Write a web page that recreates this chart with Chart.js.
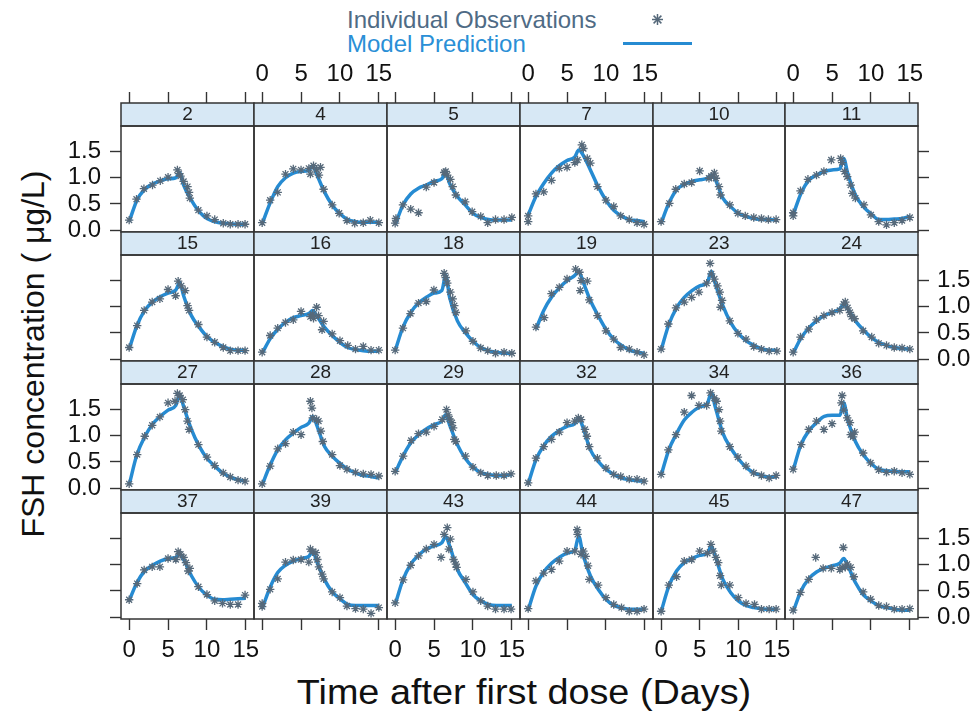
<!DOCTYPE html>
<html><head><meta charset="utf-8">
<script src="https://cdn.jsdelivr.net/npm/chart.js@4.4.1/dist/chart.umd.min.js"></script>
<style>
html,body{margin:0;padding:0;background:#fff;}
#wrap{position:relative;width:974px;height:711px;overflow:hidden;font-family:"Liberation Sans",Arial,sans-serif;}
#wrap canvas{position:absolute;}
.t{position:absolute;white-space:nowrap;line-height:1;}
</style></head><body><div id="wrap">
<div class="t" style="left:347px;top:8px;font-size:24px;color:#4f6b85;">Individual Observations</div>
<div class="t" style="left:347px;top:32px;font-size:24px;color:#2a8fd6;">Model Prediction</div>
<svg style="position:absolute;left:650px;top:12px" width="15" height="15" viewBox="-7.5 -7.5 15 15"><g stroke="#56697a" stroke-width="1.5"><line x1="-5.5" y1="0" x2="5.5" y2="0"/><line x1="0" y1="-5.5" x2="0" y2="5.5"/><line x1="-3.9" y1="-3.9" x2="3.9" y2="3.9"/><line x1="-3.9" y1="3.9" x2="3.9" y2="-3.9"/></g></svg>
<div style="position:absolute;left:623px;top:41.5px;width:69px;height:3.5px;background:#268bd2;"></div>
<div class="t" style="left:33px;top:354px;font-size:32px;color:#111;transform:translate(-50%,-50%) rotate(-90deg);">FSH concentration ( μg/L)</div>
<div class="t" style="left:524px;top:691px;font-size:35px;color:#111;transform:translate(-50%,-50%) scaleX(1.08);">Time after first dose (Days)</div>
</div>
<script>
// ---------- data ----------
const panelIds = [2,4,5,7,10,11,15,16,18,19,23,24,27,28,29,32,34,36,37,39,43,44,45,47];
const xTicks = [0,5,10,15];
const yTicks = [0,0.5,1,1.5];
const predTimes = [0,1,2,3,4,5,6,6.5,7,8,9,10,11,12,13,14,15];

const pred_2  = [0.16,0.57,0.78,0.88,0.94,0.98,1.0,1.1,0.86,0.57,0.35,0.22,0.16,0.13,0.12,0.11,0.11];
const pred_4  = [0.12,0.51,0.83,1.0,1.09,1.12,1.14,1.23,1.07,0.73,0.48,0.31,0.2,0.16,0.15,0.15,0.15];
const pred_5  = [0.1,0.48,0.69,0.8,0.86,0.93,0.98,1.09,0.89,0.64,0.48,0.32,0.24,0.2,0.19,0.19,0.19];
const pred_7  = [0.29,0.64,0.89,1.09,1.23,1.33,1.4,1.53,1.45,1.15,0.83,0.57,0.38,0.27,0.2,0.18,0.16];
const pred_10 = [0.13,0.51,0.77,0.87,0.93,0.96,0.99,1.05,0.97,0.61,0.45,0.32,0.26,0.22,0.2,0.2,0.19];
const pred_11 = [0.29,0.7,0.95,1.05,1.12,1.15,1.17,1.37,1.09,0.67,0.45,0.31,0.2,0.2,0.21,0.22,0.26];
const pred_15 = [0.19,0.64,0.93,1.09,1.19,1.26,1.32,1.47,1.21,0.83,0.61,0.43,0.32,0.24,0.19,0.17,0.17];
const pred_16 = [0.11,0.38,0.57,0.7,0.79,0.83,0.87,0.93,0.83,0.61,0.45,0.32,0.22,0.18,0.16,0.15,0.15];
const pred_18 = [0.16,0.61,0.89,1.07,1.18,1.26,1.31,1.6,1.18,0.73,0.51,0.34,0.22,0.16,0.13,0.11,0.11];
const pred_19 = [null,0.57,0.93,1.18,1.36,1.5,1.6,1.68,1.5,1.12,0.83,0.57,0.38,0.26,0.17,0.13,0.11];
const pred_23 = [0.17,0.66,0.98,1.18,1.31,1.4,1.47,1.68,1.45,1.02,0.7,0.49,0.35,0.26,0.2,0.17,0.17];
const pred_24 = [0.11,0.4,0.59,0.73,0.83,0.89,0.96,1.05,0.96,0.73,0.56,0.42,0.32,0.26,0.22,0.2,0.19];
const pred_27 = [0.06,0.64,0.98,1.22,1.37,1.49,1.58,1.79,1.56,1.12,0.8,0.57,0.42,0.29,0.21,0.16,0.13];
const pred_28 = [0.06,0.43,0.73,0.92,1.05,1.16,1.24,1.37,1.21,0.8,0.61,0.47,0.36,0.29,0.24,0.22,0.19];
const pred_29 = [0.29,0.61,0.86,1.02,1.13,1.21,1.28,1.4,1.21,0.83,0.57,0.4,0.3,0.26,0.24,0.24,0.26];
const pred_32 = [0.08,0.54,0.81,0.99,1.1,1.18,1.23,1.34,1.18,0.73,0.51,0.36,0.26,0.19,0.16,0.14,0.13];
const pred_34 = [0.24,0.73,1.04,1.3,1.45,1.55,1.62,1.82,1.56,1.05,0.77,0.56,0.4,0.29,0.24,0.21,0.21];
const pred_36 = [0.34,0.83,1.09,1.25,1.37,1.39,1.39,1.63,1.31,0.89,0.64,0.47,0.36,0.33,0.32,0.31,0.31];
const pred_37 = [0.31,0.66,0.88,0.99,1.07,1.12,1.14,1.2,1.1,0.79,0.56,0.42,0.34,0.33,0.34,0.35,0.36];
const pred_39 = [0.16,0.56,0.85,0.99,1.07,1.12,1.16,1.26,1.07,0.72,0.48,0.35,0.24,0.22,0.22,0.22,0.22];
const pred_43 = [0.24,0.71,1.01,1.18,1.3,1.36,1.42,1.54,1.36,0.91,0.66,0.43,0.31,0.24,0.22,0.22,0.22];
const pred_44 = [0.13,0.59,0.86,1.03,1.14,1.22,1.28,1.55,1.23,0.79,0.53,0.34,0.22,0.18,0.15,0.15,0.15];
const pred_45 = [0.1,0.59,0.88,1.04,1.12,1.18,1.22,1.36,1.17,0.72,0.47,0.31,0.22,0.18,0.16,0.15,0.15];
const pred_47 = [0.1,0.5,0.73,0.86,0.93,0.98,1.03,1.12,0.99,0.66,0.43,0.31,0.22,0.18,0.15,0.13,0.13];

const obs_2  = [[0,0.19],[0.94,0.59],[1.9,0.79],[3,0.86],[4,0.94],[5,1.01],[6.2,1.15],[6.4,1.08],[6.6,1.03],[7,0.93],[7.5,0.83],[7.7,0.72],[7.8,0.61],[8.9,0.38],[10,0.27],[11,0.2],[12.1,0.13],[13,0.11],[14,0.11],[14.9,0.11]];
const obs_4  = [[0,0.14],[1.03,0.57],[2,0.72],[3,1.07],[4,1.17],[5,1.15],[6,1.18],[6.2,1.07],[6.6,1.23],[7,1.15],[7.3,1.05],[7.5,1.2],[7.9,0.78],[9,0.48],[9.9,0.32],[10.9,0.18],[11.9,0.13],[13,0.14],[13.9,0.19],[15,0.14]];
const obs_5  = [[0,0.13],[0.1,0.22],[1,0.48],[2,0.4],[3,0.33],[4,0.82],[5,0.91],[6.3,1.1],[6.5,1.12],[6.7,1.05],[7.1,0.97],[7.4,0.83],[7.8,0.67],[9,0.54],[9.9,0.35],[11,0.26],[11.9,0.14],[12.9,0.2],[14,0.2],[15,0.24]];
const obs_7  = [[0,0.27],[0,0.16],[1,0.69],[2,0.73],[3,0.95],[4,1.18],[5,1.2],[6,1.29],[6.35,1.34],[6.9,1.63],[7.1,1.56],[7.6,1.37],[8,1.28],[8.9,0.83],[10,0.57],[11,0.45],[11.9,0.27],[13,0.2],[14,0.14],[14.9,0.11]];
const obs_10 = [[0,0.16],[1.07,0.51],[1.9,0.78],[3,0.88],[3.95,0.91],[5,1.13],[6.2,0.99],[6.5,1.03],[6.9,1.09],[7.1,0.99],[7.5,0.83],[7.7,0.67],[8.9,0.48],[9.95,0.32],[10.9,0.27],[12,0.24],[13,0.22],[13.9,0.2],[14.9,0.2]];
const obs_11 = [[0,0.33],[0,0.27],[0.94,0.75],[1.9,0.97],[3,1.05],[3.95,1.12],[4.9,1.34],[6.1,1.37],[6.3,1.29],[6.6,1.12],[6.95,1.02],[7.4,0.86],[7.6,0.7],[8,0.61],[9.1,0.48],[10,0.29],[11,0.16],[12,0.1],[13,0.14],[14,0.18],[15,0.24]];
const obs_15 = [[0,0.22],[1.03,0.64],[1.93,0.93],[2.96,1.09],[3.95,1.15],[5,1.33],[5.97,1.21],[6.3,1.49],[6.7,1.4],[7.2,1.31],[7.5,1.02],[7.7,0.93],[8.9,0.66],[10,0.42],[11,0.32],[12.1,0.22],[13,0.16],[14,0.16],[14.9,0.16]];
const obs_16 = [[0,0.13],[1.03,0.45],[2,0.59],[3,0.7],[4,0.75],[5,0.91],[6.2,0.81],[6.5,0.86],[6.6,0.78],[7,0.99],[7.25,0.83],[7.7,0.56],[7.9,0.72],[9,0.48],[10,0.35],[11,0.26],[12,0.19],[13,0.24],[14,0.17],[15,0.17]];
const obs_18 = [[0,0.17],[1,0.59],[1.97,0.87],[3,1.07],[4,1.1],[4.98,1.32],[6.3,1.64],[6.5,1.56],[6.7,1.45],[7.1,1.28],[7.4,1.15],[7.6,1.02],[7.8,0.89],[9.1,0.54],[10,0.34],[11,0.21],[11.9,0.16],[12.9,0.11],[14,0.13],[15,0.11]];
const obs_19 = [[1,0.61],[2.06,0.79],[3,1.25],[4,1.37],[5,1.53],[6.1,1.72],[6.6,1.66],[6.7,1.31],[6.8,1.5],[7.6,1.49],[7.85,1.13],[8.9,0.83],[10,0.54],[11,0.38],[11.9,0.22],[13,0.19],[14,0.13],[14.9,0.08]];
const obs_23 = [[0,0.19],[0.94,0.67],[1.93,0.98],[3,1.09],[3.95,1.18],[4.9,1.28],[5.9,1.45],[6.35,1.83],[6.5,1.63],[6.9,1.53],[7.3,1.4],[7.6,1.28],[7.7,0.99],[7.9,1.12],[8.9,0.73],[9.95,0.49],[11,0.38],[12,0.24],[13,0.19],[14,0.15],[15,0.15]];
const obs_24 = [[0,0.13],[0.94,0.42],[2,0.57],[3,0.75],[3.95,0.83],[5,0.89],[6,0.93],[6.5,1.05],[6.7,1.09],[7,0.98],[7.3,0.89],[7.5,0.81],[7.9,0.77],[9,0.54],[10.1,0.42],[11,0.3],[12,0.26],[13,0.22],[14,0.21],[15,0.19]];
const obs_27 = [[0,0.08],[1.03,0.64],[2,0.99],[2.96,1.2],[3.95,1.36],[5,1.63],[5.9,1.66],[6.2,1.81],[6.5,1.77],[6.9,1.69],[7.2,1.5],[7.5,1.28],[7.7,1.12],[8.9,0.83],[10,0.59],[11,0.43],[12.1,0.29],[13,0.21],[14,0.15],[14.9,0.13]];
const obs_28 = [[0,0.08],[1.03,0.42],[2,0.75],[3,0.85],[4,1.07],[5,1.02],[6.2,1.66],[6.4,1.53],[6.5,1.34],[7,1.31],[7.25,1.28],[7.55,1.09],[7.8,0.89],[9,0.64],[10,0.43],[10.9,0.36],[12,0.3],[13,0.27],[14,0.26],[15,0.23]];
const obs_29 = [[0,0.32],[1.03,0.61],[2.06,0.91],[3,1.04],[4,1.07],[5,1.18],[6.05,1.31],[6.6,1.5],[6.8,1.4],[7,1.32],[7.3,1.25],[7.45,1.15],[7.6,0.93],[7.8,0.89],[9.05,0.61],[10,0.4],[11,0.29],[11.9,0.24],[13,0.24],[14,0.24],[14.9,0.27]];
const obs_32 = [[0,0.1],[1,0.57],[2,0.79],[3,0.93],[4,1.07],[5,1.25],[6,1.28],[6.45,1.34],[6.8,1.31],[7.3,1.12],[7.55,0.99],[7.85,0.79],[8.9,0.57],[10,0.38],[11,0.26],[11.9,0.22],[13,0.17],[14,0.17],[14.9,0.13]];
const obs_34 = [[0,0.26],[0.94,0.73],[1.93,1.02],[3,1.45],[3.95,1.77],[4.9,1.58],[5.9,1.58],[6.4,1.82],[6.9,1.72],[7.2,1.66],[7.5,1.5],[7.65,1.28],[7.8,1.09],[8.9,0.79],[9.95,0.59],[11,0.42],[12,0.29],[13,0.24],[14,0.19],[14.9,0.24]];
const obs_36 = [[0,0.36],[1.03,0.83],[2,1.12],[3,1.28],[3.95,1.12],[5,1.23],[6.2,1.63],[6.3,1.77],[6.5,1.49],[6.95,1.34],[7.3,1.25],[7.4,1.02],[7.7,0.98],[7.9,1.07],[9,0.67],[9.95,0.48],[11,0.35],[12,0.3],[13,0.32],[14,0.29],[15,0.26]];
const obs_37 = [[0,0.33],[1.03,0.64],[1.93,0.9],[2.96,0.96],[3.95,0.96],[5,1.12],[6,1.1],[6.3,1.25],[6.6,1.2],[7,1.14],[7.3,1.04],[7.6,0.88],[7.8,0.93],[8.9,0.58],[10,0.43],[11,0.31],[12,0.26],[13,0.24],[14,0.24],[14.9,0.42]];
const obs_39 = [[0,0.26],[0,0.2],[1.03,0.53],[2,0.73],[3,1.05],[4,1.09],[5,1.1],[6,1.05],[6.2,1.3],[6.5,1.25],[6.9,1.23],[7.1,1.1],[7.3,0.96],[7.7,0.82],[7.9,0.73],[9,0.48],[10,0.37],[10.9,0.21],[12,0.16],[13,0.15],[14,0.07],[15,0.18]];
const obs_43 = [[0,0.27],[1.03,0.71],[2,0.99],[3,1.17],[4,1.3],[5,1.39],[5.9,1.14],[6.3,1.58],[6.7,1.71],[6.9,1.3],[7.1,1.49],[7.5,1.1],[7.8,1.01],[7.9,0.95],[9.1,0.72],[10,0.48],[11,0.31],[11.9,0.21],[12.9,0.15],[14,0.15],[14.9,0.15]];
const obs_44 = [[0,0.16],[1,0.69],[2,0.84],[3,0.91],[4,1.07],[5,1.26],[6,1.26],[6.3,1.67],[6.35,1.58],[6.8,1.2],[7.1,1.26],[7.4,1.16],[7.7,0.98],[7.85,0.72],[9,0.61],[10,0.37],[11,0.24],[12,0.18],[13,0.11],[14,0.11],[14.9,0.15]];
const obs_45 = [[0,0.11],[1,0.61],[2,0.77],[3,1.07],[3.95,1.1],[5,1.26],[6,1.22],[6.45,1.39],[6.75,1.26],[7.1,1.14],[7.4,1.04],[7.65,0.79],[7.8,0.61],[8.9,0.61],[10,0.37],[11,0.26],[12.1,0.24],[13,0.15],[14,0.15],[14.9,0.15]];
const obs_47 = [[0,0.13],[0.94,0.47],[2,0.72],[2.9,1.14],[3.86,0.93],[4.9,0.93],[6,0.91],[6.3,0.95],[6.45,1.33],[6.7,0.95],[6.95,1.01],[7.4,0.95],[7.8,0.77],[9,0.48],[9.95,0.34],[11,0.22],[12,0.2],[13,0.15],[14,0.15],[15,0.16]];

const predList = [pred_2,pred_4,pred_5,pred_7,pred_10,pred_11,pred_15,pred_16,pred_18,pred_19,pred_23,pred_24,pred_27,pred_28,pred_29,pred_32,pred_34,pred_36,pred_37,pred_39,pred_43,pred_44,pred_45,pred_47];
const obsList = [obs_2,obs_4,obs_5,obs_7,obs_10,obs_11,obs_15,obs_16,obs_18,obs_19,obs_23,obs_24,obs_27,obs_28,obs_29,obs_32,obs_34,obs_36,obs_37,obs_39,obs_43,obs_44,obs_45,obs_47];

// ---------- layout & style ----------
const colEdges = [121, 254, 387, 520, 653, 785, 918];
const rowEdges = [103, 232, 361, 490, 619];
const STRIP_H = 23, ML = 60, MR = 60, MT = 45, MB = 45;
const FONT = 'Liberation Sans, Arial, Helvetica, sans-serif';
const LINE_COLOR = '#268bd2', OBS_COLOR = '#56697a', STRIP_COLOR = '#d7e8f5', BORDER = '#333333', TXT = '#111111';
const CLEAR = 'rgba(0,0,0,0)';
Chart.defaults.font.family = FONT;

const stripPlugin = {
  id: 'strip',
  beforeDraw(chart) {
    const t = chart.titleBlock, ctx = chart.ctx;
    ctx.save(); ctx.fillStyle = STRIP_COLOR; ctx.fillRect(t.left, t.top, t.width, t.height); ctx.restore();
  },
  afterDraw(chart) {
    const t = chart.titleBlock, a = chart.chartArea, ctx = chart.ctx;
    ctx.save(); ctx.strokeStyle = BORDER; ctx.lineWidth = 1.5;
    ctx.strokeRect(t.left, t.top, t.width, t.height);
    ctx.strokeRect(a.left, a.top, a.right - a.left, a.bottom - a.top);
    ctx.restore();
  }
};

const PAD = { top: 3, bottom: 6, left: 9, right: 8 };
function axisCfg(pos, isX, showTicks, showLabels, size) {
  const vals = isX ? xTicks : yTicks;
  return {
    type: 'linear', axis: isX ? 'x' : 'y', position: pos,
    min: isX ? -1.05 : -0.038, max: isX ? 16.05 : 1.99,
    weight: pos === 'top' ? 3000 : 0,
    afterBuildTicks: s => { s.ticks = vals.map(v => ({ value: v })); },
    afterFit: s => { if (isX) s.height = size; else s.width = size; },
    ticks: {
      autoSkip: false, maxRotation: 0, padding: PAD[pos],
      color: showLabels ? TXT : CLEAR,
      font: { size: 24, family: FONT },
      callback: v => isX ? String(v) : Number(v).toFixed(1)
    },
    grid: { drawOnChartArea: false, drawTicks: true, tickLength: 11, tickWidth: 1.4, tickColor: showTicks ? BORDER : CLEAR, color: CLEAR },
    border: { display: false }
  };
}

const wrap = document.getElementById('wrap');
panelIds.forEach((id, i) => {
  const r = Math.floor(i / 6), c = i % 6;
  const left = colEdges[c], right = colEdges[c + 1], top = rowEdges[r], bottom = rowEdges[r + 1];
  const cv = document.createElement('canvas');
  const w = right - left + ML + MR, h = bottom - top + MT + MB;
  cv.width = w; cv.height = h;
  cv.style.left = (left - ML) + 'px'; cv.style.top = (top - MT) + 'px';
  cv.style.width = w + 'px'; cv.style.height = h + 'px';
  wrap.appendChild(cv);
  const pred = predList[i], obs = obsList[i];
  new Chart(cv, {
    type: 'scatter',
    data: { datasets: [
      { label: 'Individual Observations', data: obs.map(p => ({ x: p[0], y: p[1] })), showLine: false,
        pointStyle: 'star', pointRadius: 4.2, pointBorderWidth: 1.3, pointBorderColor: OBS_COLOR, pointBackgroundColor: OBS_COLOR },
      { label: 'Model Prediction', data: predTimes.map((t, k) => ({ x: t, y: pred[k] })), showLine: true,
        pointRadius: 0, borderColor: LINE_COLOR, borderWidth: 3.5, cubicInterpolationMode: 'monotone', fill: false }
    ]},
    options: {
      responsive: false, animation: false, devicePixelRatio: 1, events: [],
      layout: { padding: 0 },
      plugins: {
        legend: { display: false }, tooltip: { enabled: false },
        title: { display: true, text: String(id), position: 'top', fullSize: false, weight: 2000, padding: 0,
                 color: '#222', font: { size: 19, lineHeight: STRIP_H + 'px', weight: 'normal', family: FONT } }
      },
      scales: {
        x:  axisCfg('bottom', true, r === 3, r === 3 && c % 2 === 0, MB),
        x2: axisCfg('top', true, r === 0, r === 0 && c % 2 === 1, MT),
        y:  axisCfg('left', false, c === 0, c === 0 && r % 2 === 0, ML),
        y2: axisCfg('right', false, c === 5, c === 5 && r % 2 === 1, MR)
      }
    },
    plugins: [stripPlugin]
  });
});
</script>
</body></html>
